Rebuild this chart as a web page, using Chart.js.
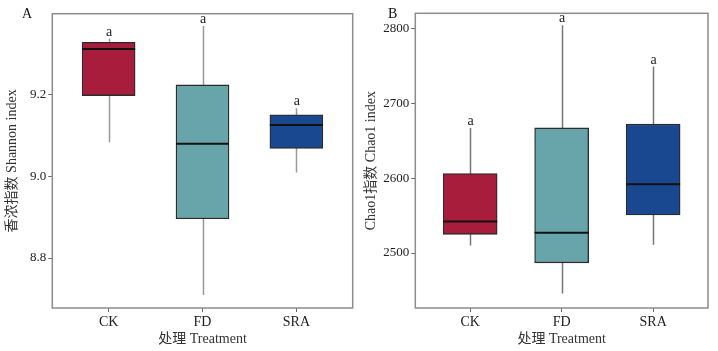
<!DOCTYPE html>
<html>
<head>
<meta charset="utf-8">
<script src="https://cdn.jsdelivr.net/npm/chart.js@4/dist/chart.umd.min.js"></script>
<style>
  html, body { margin: 0; padding: 0; background: #fff; }
  #wrap { position: relative; width: 718px; height: 351px; }
  .panel { position: absolute; top: 0; width: 359px; height: 351px; }
</style>
</head>
<body>
<div id="wrap">
  <div class="panel" style="left:0"><canvas id="chartA" width="359" height="351"></canvas></div>
  <div class="panel" style="left:359px"><canvas id="chartB" width="359" height="351"></canvas></div>
</div>
<script>
// treatment groups
const categories = ['CK', 'FD', 'SRA'];
const boxColors = ['#A81C3C', '#68A5AA', '#1A4890'];

// Shannon index (panel A): min, q1, median, q3, max
const shannonMin = [9.083, 8.710, 9.009];
const shannonQ1 = [9.197, 8.896, 9.068];
const shannonMedian = [9.311, 9.079, 9.125];
const shannonQ3 = [9.327, 9.223, 9.150];
const shannonMax = [9.336, 9.367, 9.166];
const shannonLetters = ['a', 'a', 'a'];
const shannonTicks = [8.8, 9.0, 9.2];

// Chao1 index (panel B)
const chaoMin = [2510, 2446, 2511];
const chaoQ1 = [2525, 2487, 2551];
const chaoMedian = [2542, 2527, 2592];
const chaoQ3 = [2606, 2667, 2672];
const chaoMax = [2667, 2804, 2749];
const chaoLetters = ['a', 'a', 'a'];
const chaoTicks = [2500, 2600, 2700, 2800];

const FONT = '"Liberation Serif", "Noto Sans CJK SC", serif';

// whiskers behind the boxes, medians + letters on top, frame round the panel
const boxPlotPlugin = {
    id: 'boxExtras',
    beforeDatasetsDraw(chart) {
        const o = chart.options.plugins.boxExtras;
        const { ctx, scales: { x, y } } = chart;
        ctx.save();
        ctx.strokeStyle = o.whiskerColor;
        ctx.lineWidth = 1.5;
        o.min.forEach((v, i) => {
            const px = Math.round(x.getPixelForValue(i + 1)) + 0.5;
            ctx.beginPath();
            ctx.moveTo(px, y.getPixelForValue(v));
            ctx.lineTo(px, y.getPixelForValue(o.max[i]));
            ctx.stroke();
        });
        ctx.restore();
    },
    afterDatasetsDraw(chart) {
        const o = chart.options.plugins.boxExtras;
        const { ctx, chartArea, scales: { x, y } } = chart;
        ctx.save();
        ctx.strokeStyle = '#111';
        ctx.lineWidth = 2;
        o.median.forEach((v, i) => {
            const px = x.getPixelForValue(i + 1);
            const py = y.getPixelForValue(v);
            ctx.beginPath();
            ctx.moveTo(px - o.halfWidth, py);
            ctx.lineTo(px + o.halfWidth, py);
            ctx.stroke();
        });
        ctx.fillStyle = '#222';
        ctx.font = '14px ' + FONT;
        ctx.textAlign = 'center';
        ctx.textBaseline = 'alphabetic';
        o.letters.forEach((t, i) => {
            ctx.fillText(t, x.getPixelForValue(i + 1) + 0.5, y.getPixelForValue(o.max[i]) - 3);
        });
        // panel frame
        ctx.strokeStyle = '#8c8c8c';
        ctx.lineWidth = 1.5;
        ctx.strokeRect(chartArea.left, chartArea.top, chartArea.right - chartArea.left, chartArea.bottom - chartArea.top);
        // panel tag
        ctx.fillStyle = '#111';
        ctx.font = '14px ' + FONT;
        ctx.textAlign = 'left';
        ctx.textBaseline = 'middle';
        ctx.fillText(o.tag, o.tagX, chartArea.top + 1);
        ctx.restore();
    }
};

function makeBoxChart(canvasId, cfg) {
    const ctx = document.getElementById(canvasId).getContext('2d');
    return new Chart(ctx, {
        type: 'bar',
        data: {
            datasets: [{
                data: categories.map((c, i) => ({ x: i + 1, y: [cfg.q1[i], cfg.q3[i]] })),
                backgroundColor: boxColors,
                borderColor: '#2b2b2b',
                borderWidth: 1.3,
                borderSkipped: false,
                barThickness: cfg.boxWidth
            }]
        },
        options: {
            responsive: false,
            animation: false,
            devicePixelRatio: 1,
            layout: { padding: cfg.padding },
            plugins: {
                legend: { display: false },
                tooltip: { enabled: false },
                boxExtras: {
                    min: cfg.min,
                    max: cfg.max,
                    median: cfg.median,
                    letters: cfg.letters,
                    halfWidth: cfg.boxWidth / 2,
                    whiskerColor: cfg.whiskerColor,
                    tag: cfg.tag,
                    tagX: cfg.tagX
                }
            },
            scales: {
                x: {
                    type: 'linear',
                    min: 0.4,
                    max: 3.6,
                    offset: false,
                    afterBuildTicks: (scale) => { scale.ticks = categories.map((c, i) => ({ value: i + 1 })); },
                    afterFit: (scale) => { scale.height = 43; },
                    ticks: {
                        color: '#222',
                        font: { family: FONT, size: 14 },
                        padding: 2,
                        maxRotation: 0,
                        callback: (v) => categories[v - 1]
                    },
                    grid: { offset: false, drawOnChartArea: false, drawTicks: true, tickLength: 4, color: '#666' },
                    border: { display: false },
                    title: {
                        display: true,
                        text: '处理 Treatment',
                        color: '#333',
                        font: { family: FONT, size: 14 },
                        padding: { top: 2, bottom: 3 }
                    }
                },
                y: {
                    min: cfg.yMin,
                    max: cfg.yMax,
                    afterBuildTicks: (scale) => { scale.ticks = cfg.ticks.map(v => ({ value: v })); },
                    afterFit: (scale) => { scale.width = cfg.yWidth; },
                    ticks: {
                        color: '#222',
                        font: { family: FONT, size: 13 },
                        padding: 2,
                        callback: cfg.tickFormat
                    },
                    grid: { drawOnChartArea: false, drawTicks: true, tickLength: 4, color: '#666' },
                    border: { display: false },
                    title: {
                        display: true,
                        text: cfg.yTitle,
                        color: '#333',
                        font: { family: FONT, size: 14 },
                        padding: { top: 4, bottom: 0 }
                    }
                }
            }
        },
        plugins: [boxPlotPlugin]
    });
}

makeBoxChart('chartA', {
    min: shannonMin, q1: shannonQ1, median: shannonMedian, q3: shannonQ3, max: shannonMax,
    letters: shannonLetters, ticks: shannonTicks,
    yMin: 8.678, yMax: 9.397,
    tickFormat: (v) => v.toFixed(1),
    yTitle: '香浓指数 Shannon index',
    yWidth: 52.3,
    padding: { top: 13.7, right: 6.3, bottom: 0, left: 0 },
    boxWidth: 53,
    whiskerColor: '#9a9a9a',
    tag: 'A', tagX: 22
});

makeBoxChart('chartB', {
    min: chaoMin, q1: chaoQ1, median: chaoMedian, q3: chaoQ3, max: chaoMax,
    letters: chaoLetters, ticks: chaoTicks,
    yMin: 2426.7, yMax: 2820,
    tickFormat: (v) => String(v),
    yTitle: 'Chao1指数 Chao1 index',
    yWidth: 56.3,
    padding: { top: 13.3, right: 10, bottom: 0, left: 0 },
    boxWidth: 54,
    whiskerColor: '#777777',
    tag: 'B', tagX: 29
});
</script>
</body>
</html>
